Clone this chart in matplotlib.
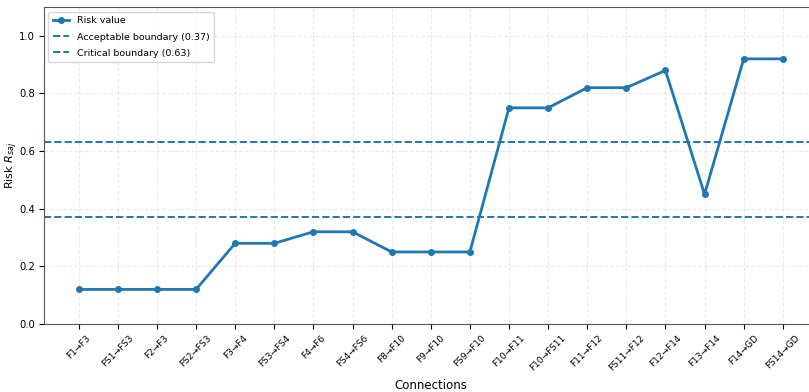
import matplotlib
matplotlib.use("Agg")
import matplotlib.pyplot as plt

connections = ["F1→F3", "FS1→FS3", "F2→F3", "FS2→FS3", "F3→F4", "FS3→FS4",
               "F4→F6", "FS4→FS6", "F8→F10", "F9→F10", "FS9→F10", "F10→F11",
               "F10→FS11", "F11→F12", "FS11→F12", "F12→F14", "F13→F14",
               "F14→GD", "FS14→GD"]
risk = [0.12, 0.12, 0.12, 0.12, 0.28, 0.28, 0.32, 0.32, 0.25, 0.25, 0.25,
        0.75, 0.75, 0.82, 0.82, 0.88, 0.45, 0.92, 0.92]
acceptable = 0.37
critical = 0.63

W, H = 809, 392
ax_left, ax_right, ax_top, ax_bottom = 43.5, 818, 7, 324
fig = plt.figure(figsize=(W / 100, H / 100), dpi=100)
ax = fig.add_axes([ax_left / W, (H - ax_bottom) / H,
                   (ax_right - ax_left) / W, (ax_bottom - ax_top) / H])
ax_w = ax_right - ax_left
ax_h = ax_bottom - ax_top

x = list(range(len(connections)))
ax.plot(x, risk, color="#1f77b4", lw=2, marker="o", ms=4, label="Risk value")
ax.axhline(acceptable, color="#1f77b4", ls="--", lw=1.4,
           label=f"Acceptable boundary ({acceptable})")
ax.axhline(critical, color="#1f77b4", ls="--", lw=1.4,
           label=f"Critical boundary ({critical})")

ax.set_ylim(0, 1.1)
ax.set_xlim(-0.9, len(connections) - 1 + 0.9)
ax.set_xticks(x)
ax.set_xticklabels(connections, rotation=45, fontsize=6.5)
ax.set_yticks([0, 0.2, 0.4, 0.6, 0.8, 1.0])
ax.tick_params(axis="y", labelsize=7.2, pad=2.5)
ax.set_xlabel("Connections", fontsize=8.5)
ax.set_ylabel(r"Risk $R_{saj}$", fontsize=8)
ax.xaxis.set_label_coords(0.5, -(379 - ax_bottom) / ax_h)
ax.yaxis.set_label_coords(-(ax_left - 20) / ax_w, 0.5)
ax.grid(True, ls="--", alpha=0.25)
for s in ax.spines.values():
    s.set_color("#555555")
ax.legend(loc="upper left", fontsize=6.8, handlelength=1.7,
          labelspacing=0.75, borderpad=0.5)

fig.savefig("out.png", dpi=100)
